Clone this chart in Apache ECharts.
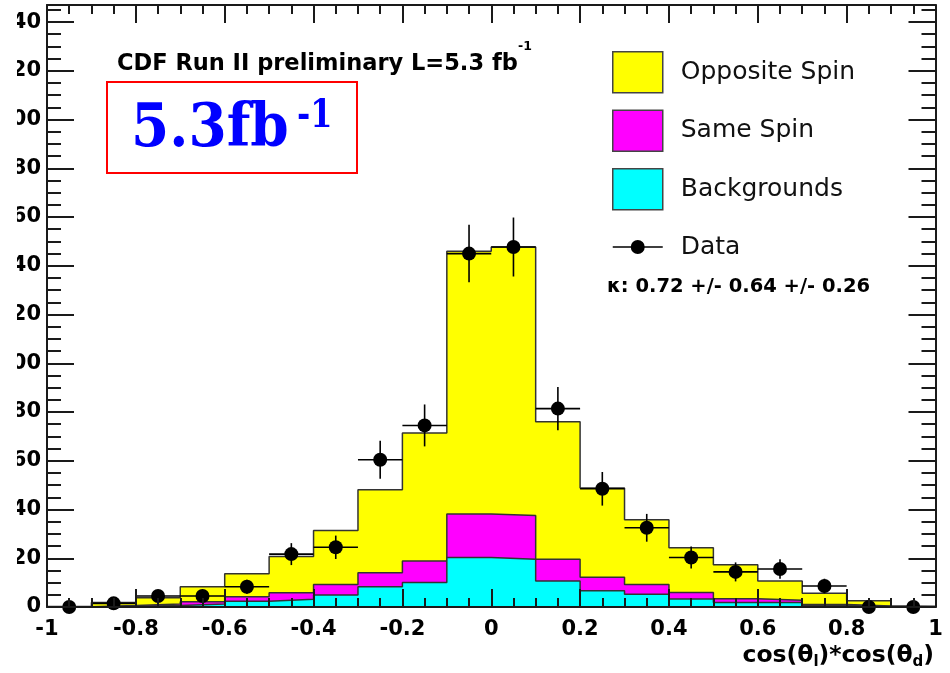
<!DOCTYPE html>
<html>
<head>
<meta charset="utf-8">
<script src="https://cdn.jsdelivr.net/npm/echarts@6/dist/echarts.min.js"></script>
<style>
html,body{margin:0;padding:0;background:#fff;}
#c{width:950px;height:673px;}
</style>
</head>
<body>
<div id="c"></div>
<script>
// ---- data ----
const binEdges = [-1, -0.9, -0.8, -0.7, -0.6, -0.5, -0.4, -0.3, -0.2, -0.1, 0, 0.1, 0.2, 0.3, 0.4, 0.5, 0.6, 0.7, 0.8, 0.9, 1];
const binCenters = [-0.95, -0.85, -0.75, -0.65, -0.55, -0.45, -0.35, -0.25, -0.15, -0.05, 0.05, 0.15, 0.25, 0.35, 0.45, 0.55, 0.65, 0.75, 0.85, 0.95];
const backgrounds  = [0.05, 0.3, 0.6, 1.2, 2.4, 3.2, 4.9, 8.3, 10.1, 20.3, 19.6, 10.7, 6.7, 5.2, 3.3, 1.8, 1.8, 0.6, 0.2, 0.05];
const sameSpin     = [0.05, 0.3, 0.6, 1.0, 1.8, 2.6, 4.3, 5.8, 8.8, 17.9, 17.9, 8.9, 5.5, 4.0, 2.7, 1.6, 1.0, 0.4, 0.2, 0.05];
const oppositeSpin = [0.1, 1.2, 2.6, 6.1, 9.4, 14.9, 22.2, 34.0, 52.5, 107.8, 110.2, 56.4, 36.6, 26.6, 18.3, 13.9, 7.9, 4.6, 2.2, 0.2];
const dataCounts   = [0, 1.5, 4.5, 4.5, 8.3, 21.7, 24.5, 60.4, 74.5, 145.0, 147.7, 81.4, 48.5, 32.5, 20.3, 14.4, 15.6, 8.6, 0, 0];
const dataErrors   = [0, 1.2, 2.1, 2.1, 2.9, 4.5, 4.8, 7.8, 8.6, 11.8, 12.1, 8.9, 6.9, 5.7, 4.5, 3.9, 4.0, 3.0, 0, 0];
const binHalfWidth = 0.05;
const xTickInterval = 0.2;
const yTickInterval = 20;
const yMax = 247;

// ---- build library data (stacked histogram tops) ----
const bgTop = backgrounds.slice();
const ssTop = backgrounds.map((v, i) => v + sameSpin[i]);
const totalTop = backgrounds.map((v, i) => v + sameSpin[i] + oppositeSpin[i]);
function stepData(arr) {
  return binEdges.map((x, i) => [x, arr[Math.min(i, arr.length - 1)]]);
}
const pointData = binCenters.map((x, i) => [x, dataCounts[i]]);
const errData = binCenters.map((x, i) => [x, dataCounts[i], dataErrors[i]]);

const INK = '#1a1a1a';
const SANS = '"DejaVu Sans", sans-serif';
const SERIF = '"DejaVu Serif", serif';

function xAxisDef(pos, showLabel) {
  return {
    type: 'value', min: -1, max: 1, interval: xTickInterval, position: pos, z: 10,
    axisLine: { show: true, onZero: false, lineStyle: { color: INK, width: 2 } },
    axisTick: { show: true, inside: true, length: 18, lineStyle: { color: INK, width: 2 } },
    minorTick: { show: true, splitNumber: 4, length: 9, lineStyle: { color: INK, width: 2 } },
    axisLabel: { show: showLabel, margin: 12, fontFamily: SANS, fontWeight: 'bold', fontSize: 21, color: '#000' },
    splitLine: { show: false }, minorSplitLine: { show: false }
  };
}
function yAxisDef(pos, showLabel) {
  return {
    type: 'value', min: 0, max: yMax, interval: yTickInterval, position: pos, z: 10,
    axisLine: { show: true, onZero: false, lineStyle: { color: INK, width: 2 } },
    axisTick: { show: true, inside: true, length: 27, lineStyle: { color: INK, width: 2 } },
    minorTick: { show: true, splitNumber: 4, length: 14, lineStyle: { color: INK, width: 2 } },
    axisLabel: { show: showLabel, margin: 6, showMaxLabel: false, fontFamily: SANS, fontWeight: 'bold', fontSize: 21, color: '#000' },
    splitLine: { show: false }, minorSplitLine: { show: false }
  };
}
function histSeries(name, arr, fill, z) {
  return {
    name: name, type: 'line', step: 'end', data: stepData(arr),
    symbol: 'none', showSymbol: false, z: z, clip: true,
    lineStyle: { color: '#333', width: 1.5 },
    areaStyle: { color: fill, opacity: 1, origin: 'start' },
    itemStyle: { color: fill },
    emphasis: { disabled: true }
  };
}

const dataIcon = 'path://M0,0h0.01v0.01h-0.01z M50,41h-0.01v-0.01h0.01z M0,19.75h50v1.5h-50z M32,20.5a7,7 0 1,1 -14,0a7,7 0 1,1 14,0z';

const option = {
  animation: false,
  backgroundColor: '#fff',
  grid: { left: 47, right: 14.5, top: 5, bottom: 66, containLabel: false, outerBoundsMode: 'none' },
  xAxis: [xAxisDef('bottom', true), xAxisDef('top', false)],
  yAxis: [yAxisDef('left', true), yAxisDef('right', false)],
  legend: {
    orient: 'vertical', left: 612, top: 51, padding: 0,
    itemWidth: 50, itemHeight: 41, itemGap: 16, selectedMode: false,
    textStyle: { fontFamily: SANS, fontSize: 25, color: '#111', padding: [0, 0, 0, 13] },
    data: [
      { name: 'Opposite Spin', icon: 'rect', itemStyle: { color: '#ffff00', borderColor: '#444', borderWidth: 1.5 } },
      { name: 'Same Spin', icon: 'rect', itemStyle: { color: '#ff00ff', borderColor: '#444', borderWidth: 1.5 } },
      { name: 'Backgrounds', icon: 'rect', itemStyle: { color: '#00ffff', borderColor: '#444', borderWidth: 1.5 } },
      { name: 'Data', icon: dataIcon, itemStyle: { color: '#000', borderWidth: 0, opacity: 1 } }
    ]
  },
  series: [
    histSeries('Opposite Spin', totalTop, '#ffff00', 3),
    histSeries('Same Spin', ssTop, '#ff00ff', 4),
    histSeries('Backgrounds', bgTop, '#00ffff', 5),
    {
      name: 'Data Errors', type: 'custom', z: 7, clip: false,
      data: errData,
      renderItem: function (params, api) {
        const x = api.value(0), y = api.value(1), e = api.value(2);
        const l = api.coord([x - binHalfWidth, y]);
        const r = api.coord([x + binHalfWidth, y]);
        const children = [{
          type: 'line', shape: { x1: l[0], y1: l[1], x2: r[0], y2: r[1] },
          style: { stroke: '#000', lineWidth: 1.6 }
        }];
        if (e > 0) {
          const t = api.coord([x, y + e]);
          const b = api.coord([x, y - e]);
          children.push({
            type: 'line', shape: { x1: t[0], y1: t[1], x2: b[0], y2: b[1] },
            style: { stroke: '#000', lineWidth: 1.6 }
          });
        }
        return { type: 'group', children: children };
      }
    },
    {
      name: 'Data', type: 'scatter', z: 8, clip: false,
      data: pointData, symbol: 'circle', symbolSize: 14,
      itemStyle: { color: '#000', opacity: 1 },
      emphasis: { disabled: true }
    }
  ],
  graphic: [
    { type: 'rect', z: 100, silent: true, shape: { x: 0, y: 0, width: 17, height: 673 }, style: { fill: '#fff' } },
    { type: 'text', z: 100, x: 117, y: 64,
      style: { text: 'CDF Run II preliminary L=5.3 fb', fontFamily: SANS, fontWeight: 'bold', fontSize: 22.5, fill: '#000', verticalAlign: 'middle' } },
    { type: 'text', z: 100, x: 518, y: 47,
      style: { text: '-1', fontFamily: SANS, fontWeight: 'bold', fontSize: 12.5, fill: '#000', verticalAlign: 'middle' } },
    { type: 'rect', z: 100, shape: { x: 107, y: 82, width: 250, height: 91 }, style: { fill: '#fff', stroke: '#ff0000', lineWidth: 2 } },
    { type: 'text', z: 101, x: 131, y: 130.5, scaleY: 1.1,
      style: { text: '5.3fb', fontFamily: SERIF, fontWeight: 'bold', fontSize: 55, fill: '#0000ff', verticalAlign: 'middle' } },
    { type: 'text', z: 101, x: 297, y: 117, scaleY: 1.25,
      style: { text: '-1', fontFamily: SERIF, fontWeight: 'bold', fontSize: 32, fill: '#0000ff', verticalAlign: 'middle' } },
    { type: 'text', z: 100, x: 607, y: 286.7,
      style: { text: 'κ: 0.72 +/- 0.64 +/- 0.26', fontFamily: SANS, fontWeight: 'bold', fontSize: 19.5, fill: '#000', verticalAlign: 'middle' } },
    { type: 'text', z: 100, x: 934, y: 655.7,
      style: {
        text: '{m|cos(θ}{s|l}{m|)*cos(θ}{s|d}{m|)}', align: 'right', verticalAlign: 'middle', fill: '#000',
        rich: {
          m: { fontFamily: SANS, fontWeight: 'bold', fontSize: 23.5, lineHeight: 27, verticalAlign: 'middle', fill: '#000' },
          s: { fontFamily: SANS, fontWeight: 'bold', fontSize: 15, lineHeight: 15, verticalAlign: 'bottom', fill: '#000' }
        }
      } }
  ]
};

const chart = echarts.init(document.getElementById('c'), null, { renderer: 'canvas' });
chart.setOption(option);
</script>
</body>
</html>
